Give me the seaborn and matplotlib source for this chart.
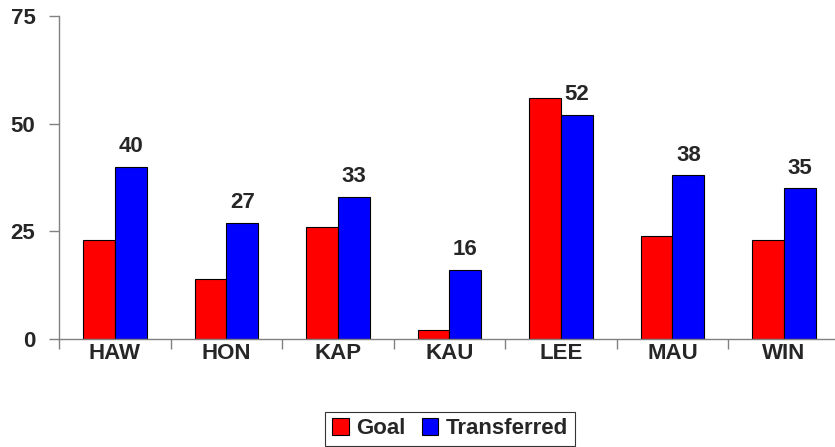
import numpy as np
import pandas as pd
import matplotlib.pyplot as plt
import seaborn as sns
from matplotlib.ticker import FixedLocator

# values
sites = ['HAW', 'HON', 'KAP', 'KAU', 'LEE', 'MAU', 'WIN']
goal = [23, 14, 26, 2, 56, 24, 23]
transferred = [40, 27, 33, 16, 52, 38, 35]

df = pd.DataFrame({
    'site': sites * 2,
    'value': goal + transferred,
    'series': ['Goal'] * len(sites) + ['Transferred'] * len(sites),
})

sns.set_style('white')
plt.rcParams['font.family'] = ['Liberation Sans', 'DejaVu Sans']
plt.rcParams['font.weight'] = 'bold'

FS = 16

fig = plt.figure(figsize=(8.35, 4.47), dpi=100)
ax = fig.add_axes([0.0707, 0.2416, 0.935, 0.7226])

sns.barplot(data=df, x='site', y='value', hue='series', order=sites,
            palette={'Goal': '#ff0000', 'Transferred': '#0000ff'},
            width=0.57, edgecolor='black', linewidth=0.8, saturation=1,
            ax=ax)

# data labels on the Transferred bars only
ax.bar_label(ax.containers[1], padding=7, fontsize=FS, fontweight='bold')

ax.set_ylim(0, 75)
ax.set_yticks([0, 25, 50, 75])
ax.set_xlim(-0.5, 6.5)
ax.set_xlabel('')
ax.set_ylabel('')

for s in ['top', 'right']:
    ax.spines[s].set_visible(False)
for s in ['left', 'bottom']:
    ax.spines[s].set_color('#808080')
    ax.spines[s].set_linewidth(1.0)

ax.tick_params(axis='y', which='major', length=7, width=1, color='#808080',
               labelsize=FS, pad=10, direction='out', left=True)
ax.tick_params(axis='x', which='major', length=0, labelsize=FS, pad=3)
ax.xaxis.set_minor_locator(FixedLocator(np.arange(-0.5, 7, 1.0)))
ax.tick_params(axis='x', which='minor', length=7, width=1, color='#808080',
               direction='out', bottom=True)
for lab in ax.get_xticklabels() + ax.get_yticklabels():
    lab.set_fontweight('bold')

leg = ax.legend(loc='center', bbox_to_anchor=(0.501, -0.278), ncol=2,
                frameon=True, fancybox=False,
                prop={'weight': 'bold', 'size': FS},
                handlelength=0.75, handleheight=0.75, handletextpad=0.35,
                columnspacing=0.7, borderpad=0.3, borderaxespad=0)
leg.get_frame().set_edgecolor('black')
leg.get_frame().set_linewidth(0.8)

fig.savefig('out.png', dpi=100)
